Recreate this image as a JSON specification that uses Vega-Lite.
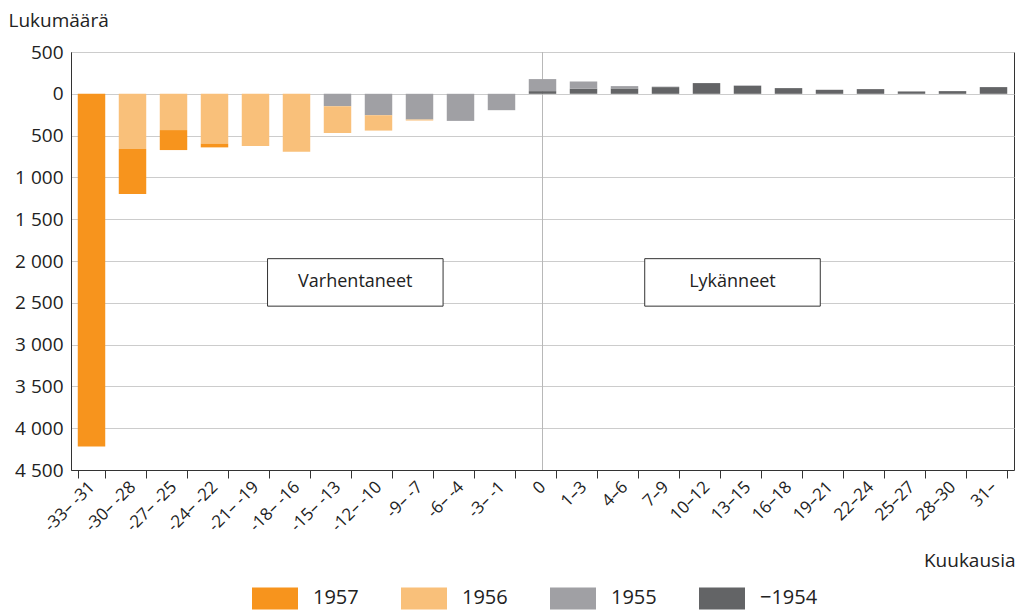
{
  "$schema": "https://vega.github.io/schema/vega-lite/v6.json",
  "width": 943,
  "height": 418,
  "autosize": {"type": "none"},
  "padding": {"left": 71, "top": 52, "right": 5, "bottom": 140},
  "config": {
    "font": "Open Sans",
    "view": {"stroke": "#333333", "strokeWidth": 1},
    "axis": {"labelColor": "#222222", "titleColor": "#222222", "titleFontWeight": "normal"},
    "legend": {"labelColor": "#222222"}
  },
  "datasets": {
    "counts": [
      {"cat": "-33– -31", "cohort": "1957", "n": 4220},
      {"cat": "-30– -28", "cohort": "1956", "n": 660},
      {"cat": "-30– -28", "cohort": "1957", "n": 540},
      {"cat": "-27– -25", "cohort": "1956", "n": 434},
      {"cat": "-27– -25", "cohort": "1957", "n": 239},
      {"cat": "-24– -22", "cohort": "1956", "n": 597},
      {"cat": "-24– -22", "cohort": "1957", "n": 44},
      {"cat": "-21– -19", "cohort": "1956", "n": 625},
      {"cat": "-18– -16", "cohort": "1956", "n": 693},
      {"cat": "-15– -13", "cohort": "1955", "n": 148},
      {"cat": "-15– -13", "cohort": "1956", "n": 320},
      {"cat": "-12– -10", "cohort": "1955", "n": 256},
      {"cat": "-12– -10", "cohort": "1956", "n": 184},
      {"cat": "-9– -7", "cohort": "1955", "n": 308},
      {"cat": "-9– -7", "cohort": "1956", "n": 12},
      {"cat": "-6– -4", "cohort": "1955", "n": 324},
      {"cat": "-3– -1", "cohort": "1955", "n": 196},
      {"cat": "0", "cohort": "1954", "n": -32},
      {"cat": "0", "cohort": "1955", "n": -144},
      {"cat": "1–3", "cohort": "1954", "n": -60},
      {"cat": "1–3", "cohort": "1955", "n": -88},
      {"cat": "4–6", "cohort": "1954", "n": -64},
      {"cat": "4–6", "cohort": "1955", "n": -28},
      {"cat": "7–9", "cohort": "1954", "n": -80},
      {"cat": "7–9", "cohort": "1955", "n": -6},
      {"cat": "10–12", "cohort": "1954", "n": -128},
      {"cat": "13–15", "cohort": "1954", "n": -96},
      {"cat": "13–15", "cohort": "1955", "n": -4},
      {"cat": "16–18", "cohort": "1954", "n": -68},
      {"cat": "19–21", "cohort": "1954", "n": -48},
      {"cat": "22–24", "cohort": "1954", "n": -56},
      {"cat": "25–27", "cohort": "1954", "n": -28},
      {"cat": "28–30", "cohort": "1954", "n": -32},
      {"cat": "31–", "cohort": "1954", "n": -80}
    ]
  },
  "encoding": {
    "x": {
      "field": "cat",
      "type": "ordinal",
      "scale": {
        "domain": ["-33– -31", "-30– -28", "-27– -25", "-24– -22", "-21– -19", "-18– -16", "-15– -13", "-12– -10", "-9– -7", "-6– -4", "-3– -1", "0", "1–3", "4–6", "7–9", "10–12", "13–15", "16–18", "19–21", "22–24", "25–27", "28–30", "31–"],
        "paddingInner": 0.33,
        "paddingOuter": 0.165
      },
      "axis": {
        "title": "Kuukausia",
        "titleFontSize": 19,
        "titleAnchor": "end",
        "titleAlign": "right",
        "titleBaseline": "alphabetic",
        "titleX": 944,
        "titleY": 96,
        "labelAngle": -45,
        "labelAlign": "right",
        "labelBaseline": "middle",
        "labelFontSize": 17,
        "labelPadding": 6,
        "tickBand": "extent",
        "ticks": true,
        "tickSize": 8,
        "tickColor": "#333333",
        "domainColor": "#333333",
        "grid": false
      }
    }
  },
  "layer": [
    {
      "data": {"values": [{"cat": "0"}]},
      "mark": {"type": "rule", "color": "#b8b8b8", "strokeWidth": 1},
      "encoding": {}
    },
    {
      "data": {"name": "counts"},
      "mark": {"type": "bar"},
      "encoding": {
        "y": {
          "field": "n",
          "type": "quantitative",
          "stack": "zero",
          "scale": {"domain": [-500, 4500], "reverse": true, "nice": false, "zero": true},
          "axis": {
            "values": [-500, 0, 500, 1000, 1500, 2000, 2500, 3000, 3500, 4000, 4500],
            "labelExpr": "replace(format(abs(datum.value), ','), ',', ' ')",
            "labelFontSize": 19,
            "labelPadding": 8,
            "ticks": false,
            "domainColor": "#333333",
            "gridColor": "#cccccc",
            "title": "Lukumäärä",
            "titleFontSize": 19,
            "titleAngle": 0,
            "titleAlign": "left",
            "titleBaseline": "alphabetic",
            "titleX": -63,
            "titleY": -26
          }
        },
        "color": {
          "field": "cohort",
          "type": "nominal",
          "scale": {
            "domain": ["1957", "1956", "1955", "1954"],
            "range": ["#F7941D", "#F9C07A", "#A0A0A4", "#636466"]
          },
          "legend": {
            "title": null,
            "orient": "none",
            "direction": "horizontal",
            "legendX": 181,
            "legendY": 523,
            "symbolType": "M-1,-0.48L1,-0.48L1,0.48L-1,0.48Z",
            "symbolSize": 2116,
            "symbolStrokeWidth": 0,
            "symbolOpacity": 1,
            "labelFontSize": 20,
            "labelOffset": 15,
            "columnPadding": 42,
            "labelExpr": "datum.label == '1954' ? '−1954' : datum.label"
          }
        },
        "order": {"field": "cohort", "sort": "ascending"}
      }
    },
    {
      "data": {"values": [{"cat": "-15– -13", "label": "Varhentaneet"}]},
      "mark": {"type": "rect", "width": {"band": 6.39}, "xOffset": 17.8, "fill": "white", "stroke": "#333333", "strokeWidth": 1},
      "encoding": {
        "y": {"datum": 1972, "type": "quantitative"},
        "y2": {"datum": 2540}
      }
    },
    {
      "data": {"values": [{"cat": "-15– -13", "label": "Varhentaneet"}]},
      "mark": {"type": "text", "xOffset": 17.8, "fontSize": 18, "color": "#222222"},
      "encoding": {
        "y": {"datum": 2256, "type": "quantitative"},
        "text": {"field": "label"}
      }
    },
    {
      "data": {"values": [{"cat": "10–12", "label": "Lykänneet"}]},
      "mark": {"type": "rect", "width": {"band": 6.39}, "xOffset": 26, "fill": "white", "stroke": "#333333", "strokeWidth": 1},
      "encoding": {
        "y": {"datum": 1972, "type": "quantitative"},
        "y2": {"datum": 2540}
      }
    },
    {
      "data": {"values": [{"cat": "10–12", "label": "Lykänneet"}]},
      "mark": {"type": "text", "xOffset": 26, "fontSize": 18, "color": "#222222"},
      "encoding": {
        "y": {"datum": 2256, "type": "quantitative"},
        "text": {"field": "label"}
      }
    }
  ]
}
